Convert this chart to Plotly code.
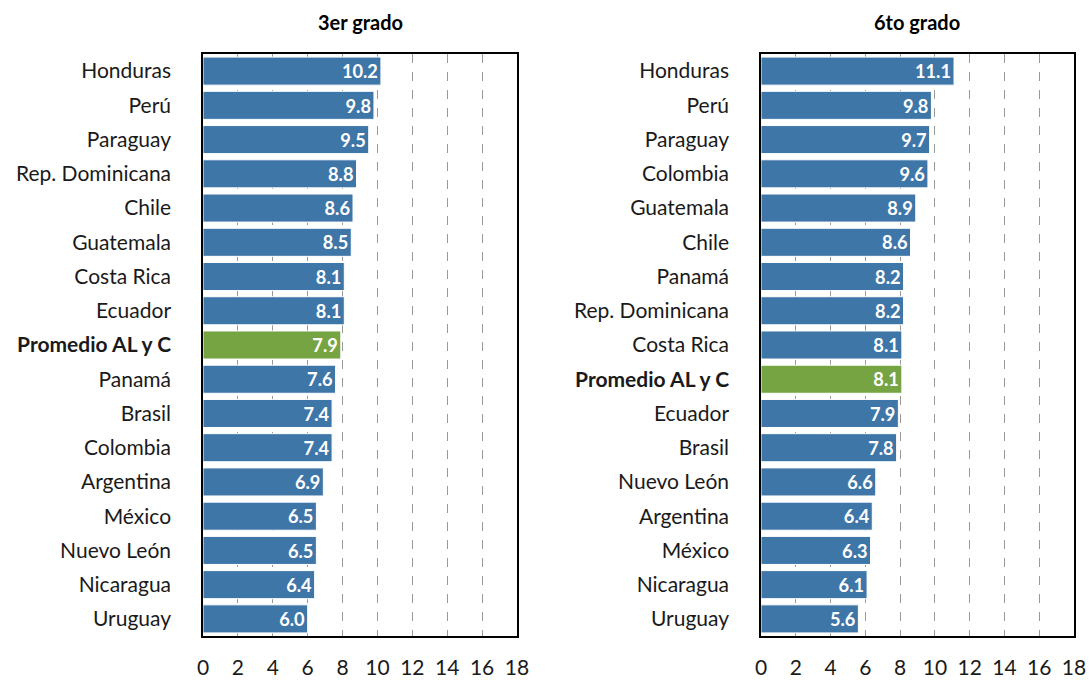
import plotly.graph_objects as go

countries_3 = ["Honduras", "Perú", "Paraguay", "Rep. Dominicana", "Chile", "Guatemala",
               "Costa Rica", "Ecuador", "Promedio AL y C", "Panamá", "Brasil", "Colombia",
               "Argentina", "México", "Nuevo León", "Nicaragua", "Uruguay"]
values_3 = [10.2, 9.8, 9.5, 8.8, 8.6, 8.5, 8.1, 8.1, 7.9, 7.6, 7.4, 7.4, 6.9, 6.5, 6.5, 6.4, 6.0]

countries_6 = ["Honduras", "Perú", "Paraguay", "Colombia", "Guatemala", "Chile", "Panamá",
               "Rep. Dominicana", "Costa Rica", "Promedio AL y C", "Ecuador", "Brasil",
               "Nuevo León", "Argentina", "México", "Nicaragua", "Uruguay"]
values_6 = [11.1, 9.8, 9.7, 9.6, 8.9, 8.6, 8.2, 8.2, 8.1, 8.1, 7.9, 7.8, 6.6, 6.4, 6.3, 6.1, 5.6]

titles = ["3er grado", "6to grado"]
x_ticks = [0, 2, 4, 6, 8, 10, 12, 14, 16, 18]

BLUE = "#3F76A8"
GREEN = "#77A443"
AVG = "Promedio AL y C"
FONT = "Lato"

W, H = 1089, 681
fig = go.Figure()

panels = [(countries_3, values_3, "x", "y", [203, 517]),
          (countries_6, values_6, "x2", "y2", [761, 1074])]
ydom = [1 - 636 / H, 1 - 54 / H]

for i, (cats, vals, xa, ya, px) in enumerate(panels):
    colors = [GREEN if c == AVG else BLUE for c in cats]
    fig.add_trace(go.Bar(
        y=cats, x=vals, orientation="h", xaxis=xa, yaxis=ya,
        marker=dict(color=colors, line=dict(color="white", width=1)),
        text=[f"{v:.1f}" for v in vals], textposition="inside", insidetextanchor="end",
        textfont=dict(color="white", size=19, family=FONT),
        texttemplate="<b>%{text}</b>",
        hoverinfo="x+y", showlegend=False,
    ))
    sfx = "" if i == 0 else "2"
    xdom = [px[0] / W, px[1] / W]
    ticktext = [f"<b>{c}</b>" if c == AVG else c for c in cats]
    fig.update_layout(**{
        "xaxis" + sfx: dict(
            domain=xdom, range=[0, 18], tickvals=x_ticks, ticks="", showgrid=True,
            gridcolor="#999999", griddash="dash", gridwidth=1,
            showline=True, linecolor="black", linewidth=1.5, mirror=True,
            zeroline=False, tickfont=dict(size=21, color="#1a1a1a", family=FONT),
            ticklabelstandoff=12, automargin=False,
            anchor="y" + sfx, fixedrange=True,
        ),
        "yaxis" + sfx: dict(
            domain=ydom, categoryorder="array", categoryarray=cats,
            autorange="reversed", showline=True, linecolor="black", linewidth=1.5, mirror=True,
            tickvals=cats, ticktext=ticktext,
            tickfont=dict(size=21, color="#1a1a1a", family=FONT), ticks="",
            ticklabelstandoff=26, automargin=False,
            anchor="x" + sfx, fixedrange=True, showgrid=False,
        ),
    })
    fig.add_annotation(
        x=(xdom[0] + xdom[1]) / 2, y=1 - 22 / H, xref="paper", yref="paper",
        xanchor="center", yanchor="middle",
        text=f"<b>{titles[i]}</b>", showarrow=False,
        font=dict(size=20, color="black", family=FONT),
    )

fig.update_layout(
    width=W, height=H, margin=dict(l=0, r=0, t=0, b=0, autoexpand=False),
    paper_bgcolor="white", plot_bgcolor="white", bargap=0.18,
    font=dict(family=FONT),
    uniformtext=dict(minsize=10, mode="show"),
)

fig.write_html(
    "out.html",
    config={"displayModeBar": False},
    post_script="document.body.style.margin='0';document.body.style.overflow='hidden';",
)
